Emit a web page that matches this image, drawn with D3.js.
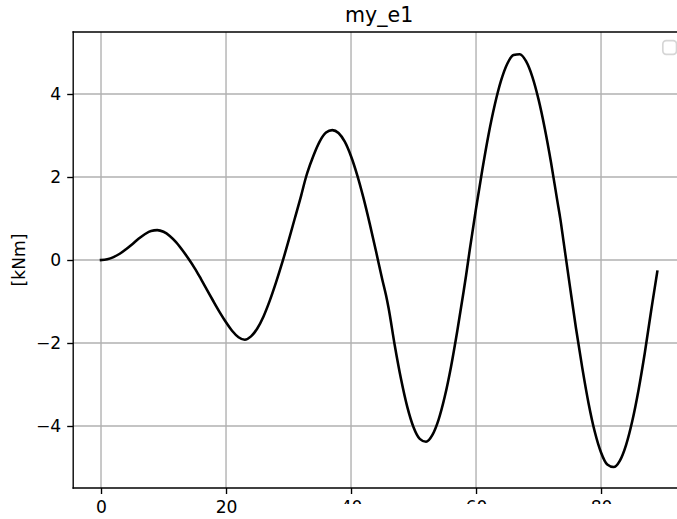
<!DOCTYPE html>
<html>
<head>
<meta charset="utf-8">
<script src="https://cdn.jsdelivr.net/npm/d3@7"></script>
<style>
  html, body { margin: 0; padding: 0; background: #fff; }
  svg { display: block; }
  text { font-family: "DejaVu Sans", sans-serif; fill: #000; }
</style>
</head>
<body>
<svg id="chart" width="677" height="519"></svg>
<script>
// Bending moment my_e1 along the member
const xs = [
  0, 1, 2, 3, 4, 5, 6, 7, 8, 9, 10, 11, 12, 13, 14, 15, 16, 17, 18, 19,
  20, 21, 22, 23, 24, 25, 26, 27, 28, 29, 30, 31, 32, 32.8,
  33, 34, 35, 36, 37, 38, 39, 40, 41, 42, 43, 44, 45, 45.6,
  46, 47, 48, 49, 50, 51, 52, 53, 54, 55, 56, 57, 58, 58.4,
  59, 60, 61, 62, 63, 64, 65, 66, 67, 68, 69, 70, 71, 72, 73, 73.5,
  74, 75, 76, 77, 78, 79, 80, 81, 82, 83, 84, 85, 86, 87, 88, 88.3, 89
];
const moment = [
  0.00, 0.02, 0.07, 0.15, 0.26, 0.38, 0.51, 0.62, 0.70, 0.72, 0.68, 0.58, 0.43, 0.24, 0.03, -0.20, -0.46, -0.73, -1.00, -1.26,
  -1.50, -1.71, -1.86, -1.92, -1.84, -1.65, -1.36, -0.98, -0.54, -0.06, 0.46, 1.00, 1.54, 2.00,
  2.10, 2.52, 2.86, 3.07, 3.13, 3.06, 2.85, 2.50, 2.04, 1.49, 0.87, 0.21, -0.47, -0.85,
  -1.15, -2.06, -2.87, -3.54, -4.03, -4.31, -4.38, -4.22, -3.85, -3.29, -2.57, -1.71, -0.77, -0.38,
  0.25, 1.24, 2.17, 3.02, 3.74, 4.32, 4.73, 4.94, 4.96, 4.79, 4.42, 3.87, 3.17, 2.35, 1.43, 0.98,
  0.45, -0.61, -1.65, -2.60, -3.45, -4.14, -4.64, -4.93, -4.99, -4.84, -4.46, -3.88, -3.13, -2.24, -1.24, -0.95, -0.28
];
const xTicks = [0, 20, 40, 60, 80];
const yTicks = [-4, -2, 0, 2, 4];
const titleText = "my_e1";
const yLabelText = "[kNm]";

const W = 677, H = 519;
const PT = 1.714;                       // px per point
const plot = { left: 73.2, top: 32, right: 685.1, bottom: 488 };
const fontTick = 10 * PT, fontTitle = 12 * PT;

const svg = d3.select("#chart");

const x = d3.scaleLinear().domain([-4.45, 93.45]).range([plot.left, plot.right]);
const y = d3.scaleLinear().domain([-5.494, 5.494]).range([plot.bottom, plot.top]);

svg.append("defs").append("clipPath").attr("id", "plot-clip")
  .append("rect")
  .attr("x", plot.left).attr("y", plot.top)
  .attr("width", plot.right - plot.left).attr("height", plot.bottom - plot.top);

// grid
const grid = svg.append("g").attr("stroke", "#b0b0b0").attr("stroke-width", 0.8 * PT);
grid.selectAll("line.gx").data(xTicks).join("line")
  .attr("x1", d => x(d)).attr("x2", d => x(d))
  .attr("y1", plot.top).attr("y2", plot.bottom);
grid.selectAll("line.gy").data(yTicks).join("line")
  .attr("x1", plot.left).attr("x2", plot.right)
  .attr("y1", d => y(d)).attr("y2", d => y(d));

// curve
const line = d3.line().x((d, i) => x(xs[i])).y(d => y(d)).curve(d3.curveMonotoneX);
svg.append("path")
  .attr("clip-path", "url(#plot-clip)")
  .attr("d", line(moment))
  .attr("fill", "none")
  .attr("stroke", "#000")
  .attr("stroke-width", 1.5 * PT)
  .attr("stroke-linejoin", "round")
  .attr("stroke-linecap", "square");

// axes
const fmt = d => d < 0 ? "\u2212" + Math.abs(d) : String(d);
const tickLen = 3.5 * PT;
const xAxis = d3.axisBottom(x).tickValues(xTicks).tickSize(tickLen).tickPadding(6.4).tickFormat(fmt);
const yAxis = d3.axisLeft(y).tickValues(yTicks).tickSize(tickLen).tickPadding(3.5 * PT).tickFormat(fmt);

const gx = svg.append("g").attr("transform", `translate(0,${plot.bottom})`).call(xAxis);
const gy = svg.append("g").attr("transform", `translate(${plot.left},0)`).call(yAxis);
[gx, gy].forEach(g => {
  g.select(".domain").remove();
  g.selectAll(".tick line").attr("stroke", "#000").attr("stroke-width", 0.8 * PT);
  g.selectAll(".tick text").attr("font-size", fontTick).attr("font-family", "DejaVu Sans").attr("fill", "#000");
});

// spines: left, top, bottom (the right one lies past the edge)
const spines = svg.append("g").attr("stroke", "#000").attr("stroke-width", 0.8 * PT).attr("stroke-linecap", "square");
spines.append("line").attr("x1", plot.left).attr("x2", plot.left).attr("y1", plot.top).attr("y2", plot.bottom);
spines.append("line").attr("x1", plot.left).attr("x2", W).attr("y1", plot.top).attr("y2", plot.top);
spines.append("line").attr("x1", plot.left).attr("x2", W).attr("y1", plot.bottom).attr("y2", plot.bottom);

// empty legend frame, upper right
const legendPad = 0.5 * fontTick, legendSize = 0.8 * fontTick;
svg.append("rect")
  .attr("x", plot.right - legendPad - legendSize).attr("y", plot.top + legendPad)
  .attr("width", legendSize).attr("height", legendSize).attr("rx", 0.2 * fontTick)
  .attr("fill", "#fff").attr("fill-opacity", 0.8)
  .attr("stroke", "#cccccc").attr("stroke-opacity", 0.8).attr("stroke-width", PT);

// title and axis label
svg.append("text")
  .attr("x", (plot.left + plot.right) / 2).attr("y", plot.top - 6 * PT)
  .attr("text-anchor", "middle").attr("font-size", fontTitle)
  .text(titleText);

svg.append("text")
  .attr("transform", `translate(24.5,${(plot.top + plot.bottom) / 2}) rotate(-90)`)
  .attr("text-anchor", "middle").attr("font-size", fontTick)
  .text(yLabelText);

// lower band of the frame is blank from here to the right edge
svg.append("rect")
  .attr("x", 300).attr("y", 504).attr("width", W - 300).attr("height", H - 504)
  .attr("fill", "#fff");
</script>
</body>
</html>
